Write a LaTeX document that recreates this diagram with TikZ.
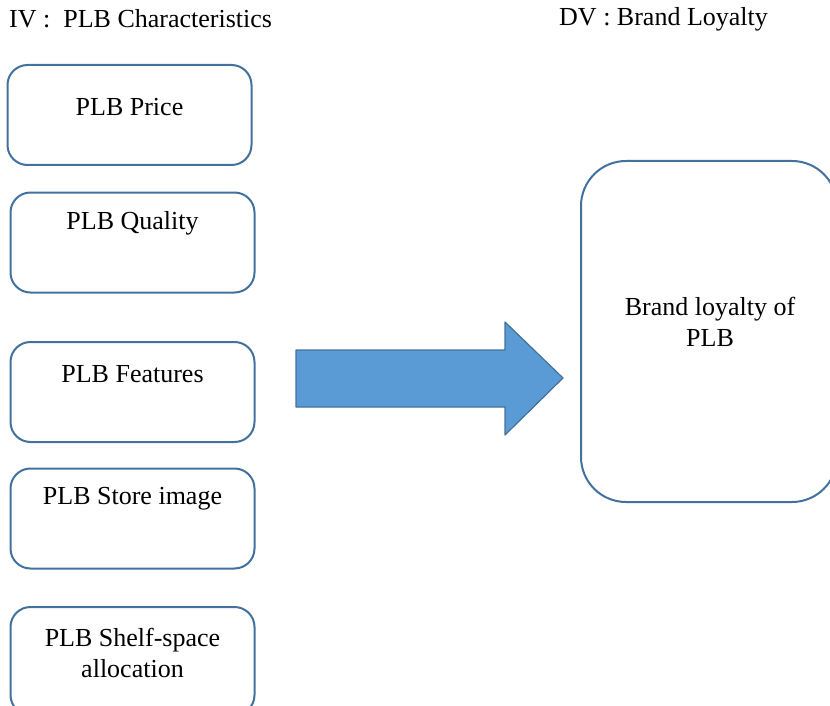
\documentclass[tikz,border=0pt]{standalone}
\usepackage{fontspec}
\setmainfont{Liberation Serif}
\definecolor{boxline}{HTML}{41719C}
\definecolor{arrowfill}{HTML}{5B9BD5}

\begin{document}
\begin{tikzpicture}[x=1pt, y=-1pt, line join=round,
    box/.style={draw=boxline, line width=2pt, rounded corners=20pt, minimum width=244pt, minimum height=100pt, inner sep=0pt},
    lbl/.style={font=\fontsize{26}{31}\selectfont, align=center, inner sep=0pt}]
    \useasboundingbox (0,0) rectangle (830,706);
    \clip (0,0) rectangle (830,706);

    % titles
    \node[lbl, anchor=west] (ivtitle) at (9,19) {IV :\ \ PLB Characteristics};
    \node[lbl, anchor=west] (dvtitle) at (559,19) {DV : Brand Loyalty};

    % left column: IV boxes
    \node[box] (price) at (129.5,115) {};
    \node[lbl] (priceT) at (129.5,107) {PLB Price};

    \node[box] (quality) at (132.5,242.5) {};
    \node[lbl] (qualityT) at (132.5,223) {PLB Quality};

    \node[box] (features) at (132.5,392) {};
    \node[lbl] (featuresT) at (132.5,374) {PLB Features};

    \node[box] (store) at (132.5,518.5) {};
    \node[lbl] (storeT) at (132.5,499) {PLB Store image};

    \node[box, minimum height=108pt] (shelf) at (132.5,661) {};
    \node[lbl] (shelfT) at (132.5,653) {PLB Shelf-space\\allocation};

    % big arrow
    \fill[arrowfill, draw=boxline, line width=1.2pt]
        (296,350) -- (505,350) -- (505,322) -- (563,378)
        -- (505,435) -- (505,407) -- (296,407) -- cycle;

    % right: DV box
    \node[box, rounded corners=45pt, minimum width=256pt, minimum height=341pt] (loyalty) at (709,331.5) {};
    \node[lbl] (loyaltyT) at (710,322) {Brand loyalty of\\PLB};
\end{tikzpicture}
\end{document}
